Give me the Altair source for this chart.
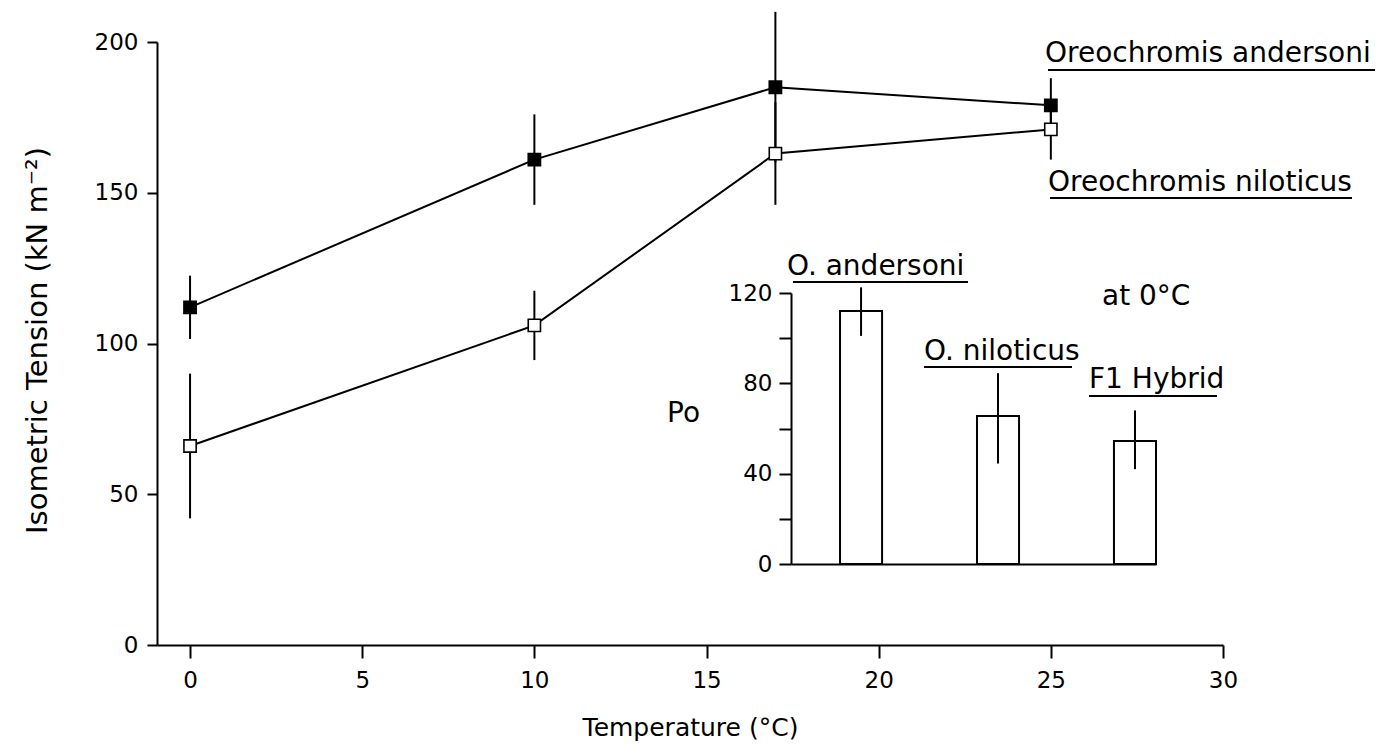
import altair as alt
import pandas as pd

# ---- main panel data ----
temps = [0, 10, 17, 25]
species = ["Oreochromis andersoni", "Oreochromis niloticus"]
andersoni_mean = [112, 161, 185, 179]
andersoni_err = [10.5, 15, 25, 9]
niloticus_mean = [66, 106, 163, 171]
niloticus_err = [24, 11.5, 17, 10]

x_ticks = [0, 5, 10, 15, 20, 25, 30]
y_ticks = [0, 50, 100, 150, 200]

# ---- inset data (Po at 0 °C) ----
groups = ["O. andersoni", "O. niloticus", "F1 Hybrid"]
po_mean = [112, 65.5, 54.5]
po_low = [101, 44.5, 42]
po_high = [122.5, 84.5, 68]
inset_ticks = [0, 20, 40, 60, 80, 100, 120]

FONT = "DejaVu Sans"

main_df = pd.DataFrame({
    "temp": temps * 2,
    "mean": andersoni_mean + niloticus_mean,
    "err": andersoni_err + niloticus_err,
    "species": [species[0]] * 4 + [species[1]] * 4,
})
main_df["lo"] = main_df["mean"] - main_df["err"]
main_df["hi"] = main_df["mean"] + main_df["err"]

inset_df = pd.DataFrame({"group": groups, "po": po_mean, "lo": po_low, "hi": po_high})

xs = alt.Scale(domain=[-0.96, 30], nice=False, zero=False)
ys = alt.Scale(domain=[0, 200], nice=False)

x_axis = alt.Axis(values=x_ticks, tickSize=13, labelPadding=11, labelFontSize=23,
                  labelFlush=False, title="Temperature (°C)", titleFontSize=25,
                  titleY=70, grid=False)
y_axis = alt.Axis(values=y_ticks, tickSize=10, labelPadding=9, labelFontSize=23,
                  title="Isometric Tension (kN m⁻²)", titleFontSize=29,
                  titleX=-105, titleY=298, grid=False)

X = alt.X("temp:Q", scale=xs, axis=x_axis)

rules = alt.Chart(main_df).mark_rule(color="black", strokeWidth=2).encode(
    x=X, y=alt.Y("lo:Q", scale=ys, axis=y_axis), y2="hi:Q")
lines = alt.Chart(main_df).mark_line(color="black", strokeWidth=2).encode(
    x=X, y=alt.Y("mean:Q", scale=ys, axis=y_axis), detail="species:N")
points = alt.Chart(main_df).mark_square(size=150, stroke="black", strokeWidth=1.6, opacity=1).encode(
    x=X, y=alt.Y("mean:Q", scale=ys, axis=y_axis),
    fill=alt.Fill("species:N", scale=alt.Scale(domain=species, range=["black", "white"]), legend=None))


def label(text, x, y, size=28):
    return alt.Chart(pd.DataFrame({"t": [text]})).mark_text(
        align="left", baseline="alphabetic", font=FONT, fontSize=size, color="black"
    ).encode(x=alt.value(x), y=alt.value(y), text="t:N")


def underline(x1, x2, y):
    return alt.Chart(pd.DataFrame({"u": [0]})).mark_rule(color="black", strokeWidth=2).encode(
        x=alt.value(x1), x2=alt.value(x2), y=alt.value(y))


annotations = [
    label(species[0], 888, 20), underline(891, 1218, 28),
    label(species[1], 891, 149), underline(893, 1195, 156),
    label(groups[0], 630, 233), underline(636, 811, 240),
    label(groups[1], 767, 318), underline(767, 915, 325),
    label(groups[2], 932, 346), underline(932, 1060, 354),
    label("at 0°C", 945, 263),
    label("Po", 510, 380),
]

main = alt.layer(lines, rules, points, *annotations)

# ---- inset ----
ix = alt.Scale(domain=groups, range=[634, 999], paddingInner=0.693, paddingOuter=0.179, align=1)
iy = alt.Scale(domain=[0, 120], range=[522, 251], nice=False, zero=True)
ix_axis = alt.Axis(orient="bottom", offset=-81, labels=False, ticks=False, title=None,
                   grid=False, domainWidth=2)
iy_axis = alt.Axis(orient="left", offset=-634, values=inset_ticks, tickSize=12,
                   labelPadding=7, labelFontSize=23, title=None, grid=False,
                   labelExpr="datum.value % 40 == 0 ? datum.label : ''")
IX = alt.X("group:N", scale=ix, sort=groups, axis=ix_axis)

bars = alt.Chart(inset_df).mark_bar(fill="white", stroke="black", strokeWidth=2).encode(
    x=IX, y=alt.Y("po:Q", scale=iy, axis=iy_axis))
ierr = alt.Chart(inset_df).mark_rule(color="black", strokeWidth=2).encode(
    x=IX, y=alt.Y("lo:Q", scale=iy, axis=iy_axis), y2="hi:Q")
inset = alt.layer(bars, ierr)

chart = alt.layer(main, inset).resolve_scale(x="independent", y="independent").properties(
    width=1066, height=603,
    autosize=alt.AutoSizeParams(type="none"),
    padding={"left": 157, "top": 42, "right": 159, "bottom": 110},
    background="white",
).configure_axis(
    labelFont=FONT, titleFont=FONT, titleFontWeight="normal",
    labelColor="black", titleColor="black", domainColor="black", tickColor="black",
    domainWidth=2, tickWidth=2, grid=False,
).configure_view(stroke=None)

chart.save("out.html", embed_options={"renderer": "svg", "actions": False})
